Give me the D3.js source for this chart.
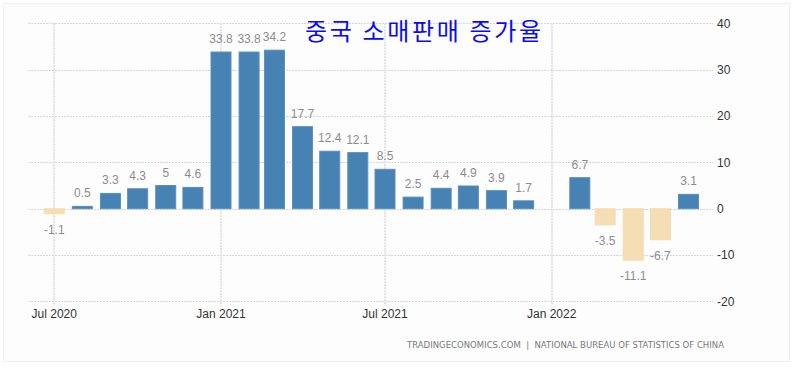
<!DOCTYPE html>
<html>
<head>
<meta charset="utf-8">
<script src="https://cdn.jsdelivr.net/npm/d3@7"></script>
<style>
  body { margin: 0; background: #fff; }
  svg { display: block; }
</style>
</head>
<body>
<script>
// chart size
var width = 794;
var height = 381;

var months = ['2020-07', '2020-08', '2020-09', '2020-10', '2020-11', '2020-12',
              '2021-01', '2021-02', '2021-03', '2021-04', '2021-05', '2021-06',
              '2021-07', '2021-08', '2021-09', '2021-10', '2021-11', '2021-12',
              '2022-02', '2022-03', '2022-04', '2022-05', '2022-06'];
var values = [-1.1, 0.5, 3.3, 4.3, 5, 4.6,
              33.8, 33.8, 34.2, 17.7, 12.4, 12.1,
              8.5, 2.5, 4.4, 4.9, 3.9, 1.7,
              6.7, -3.5, -11.1, -6.7, 3.1];
var yTicks = [-20, -10, 0, 10, 20, 30, 40];
var xTicks = ['2020-07', '2021-01', '2021-07', '2022-01'];
var xTickLabels = ['Jul 2020', 'Jan 2021', 'Jul 2021', 'Jan 2022'];

var title = '중국 소매판매 증가율';
var source = 'TRADINGECONOMICS.COM  |  NATIONAL BUREAU OF STATISTICS OF CHINA';

var parse = d3.timeParse('%Y-%m');

var x = d3.scaleTime()
          .domain([new Date(2020, 5, 2), new Date(2022, 5, 28)])
          .range([28, 713]);

var y = d3.scaleLinear()
          .domain([-20, 40])
          .range([301.4, 23.3]);

var barWidth = 20;

var svg = d3.select('body')
            .append('svg')
            .attr('width', width)
            .attr('height', height);

// panel frame
svg.append('rect')
   .attr('x', 3.5)
   .attr('y', 3.5)
   .attr('width', 786)
   .attr('height', 358)
   .attr('fill', '#fdfdfd')
   .attr('stroke', '#eeeeee');

// horizontal grid lines
svg.append('g')
   .selectAll('line')
   .data(yTicks)
   .enter()
   .append('line')
   .attr('x1', 28)
   .attr('x2', 713)
   .attr('y1', function(d){ return Math.round(y(d)) + 0.5; })
   .attr('y2', function(d){ return Math.round(y(d)) + 0.5; })
   .attr('stroke', '#d6d6d6')
   .attr('stroke-dasharray', '2,1');

// vertical grid lines
svg.append('g')
   .selectAll('line')
   .data(xTicks)
   .enter()
   .append('line')
   .attr('x1', function(d){ return Math.round(x(parse(d))); })
   .attr('x2', function(d){ return Math.round(x(parse(d))); })
   .attr('y1', y(40))
   .attr('y2', y(-20) + 4)
   .attr('stroke', '#e2e2e2')
   .attr('stroke-width', 2)
   .attr('stroke-dasharray', '2,1');

// y axis labels
svg.append('g')
   .selectAll('text')
   .data(yTicks)
   .enter()
   .append('text')
   .attr('x', 717)
   .attr('y', function(d){ return y(d); })
   .attr('dy', '0.36em')
   .attr('font-family', 'Liberation Sans, Arial, sans-serif')
   .attr('font-size', 12)
   .attr('fill', '#333')
   .text(function(d){ return d; });

// x axis labels
svg.append('g')
   .selectAll('text')
   .data(xTicks)
   .enter()
   .append('text')
   .attr('x', function(d){ return x(parse(d)); })
   .attr('y', 313.5)
   .attr('dy', '0.36em')
   .attr('text-anchor', 'middle')
   .attr('font-family', 'Liberation Sans, Arial, sans-serif')
   .attr('font-size', 12)
   .attr('fill', '#333')
   .text(function(d, i){ return xTickLabels[i]; });

// bars
var bars = svg.append('g')
              .selectAll('g')
              .data(months)
              .enter()
              .append('g');

bars.append('rect')
    .attr('x', function(d){ return x(parse(d)) - barWidth / 2; })
    .attr('y', function(d, i){ return y(Math.max(0, values[i])); })
    .attr('width', barWidth)
    .attr('height', function(d, i){ return Math.abs(y(values[i]) - y(0)); })
    .attr('fill', function(d, i){ return values[i] < 0 ? '#f5deb3' : '#4682b4'; })
    .attr('stroke', function(d, i){ return values[i] < 0 ? '#f3dcb4' : '#5a8fbd'; })
    .attr('stroke-width', 1);

bars.append('text')
    .attr('x', function(d){ return x(parse(d)); })
    .attr('y', function(d, i){
      if (values[i] < 0) {
        return y(values[i]) + 20;
      }
      return y(values[i]) - 9;
    })
    .attr('text-anchor', 'middle')
    .attr('font-family', 'Liberation Sans, Arial, sans-serif')
    .attr('font-size', 12)
    .attr('fill', '#8c8c8c')
    .text(function(d, i){ return values[i]; });

// title
svg.append('text')
   .attr('x', 305)
   .attr('y', 31)
   .attr('dy', '0.36em')
   .attr('font-family', 'Noto Sans CJK KR, sans-serif')
   .attr('font-size', 24)
   .attr('fill', '#0a0af5')
   .attr('textLength', 236)
   .attr('lengthAdjust', 'spacing')
   .text(title);

// source line
svg.append('text')
   .attr('x', 407)
   .attr('y', 345)
   .attr('dy', '0.36em')
   .attr('font-family', 'DejaVu Sans, sans-serif')
   .attr('font-size', 8)
   .attr('fill', '#7a7a7a')
   .attr('textLength', 317)
   .attr('lengthAdjust', 'spacingAndGlyphs')
   .style('white-space', 'pre')
   .text(source);
</script>
</body>
</html>
